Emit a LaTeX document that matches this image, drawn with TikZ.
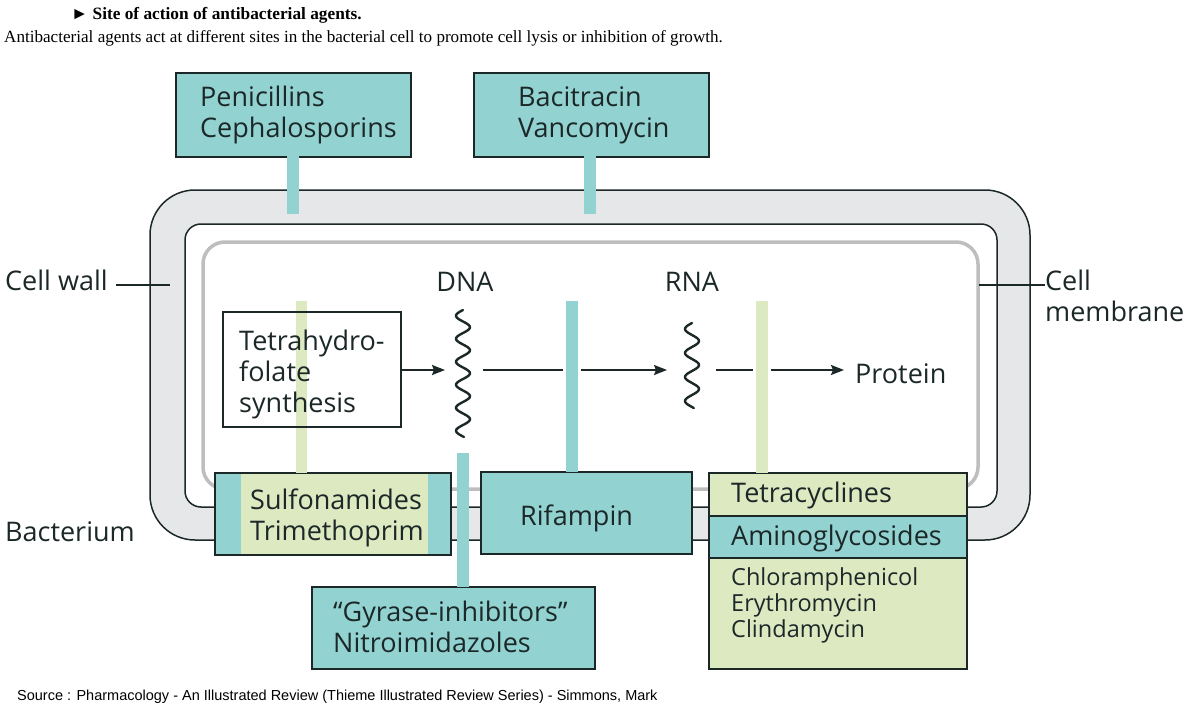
\documentclass[tikz,border=0pt]{standalone}
\usepackage{fontspec}
\setmainfont{Open Sans}
\newfontfamily\serifhd{Liberation Serif}
\newfontfamily\arialf{Liberation Sans}
\usetikzlibrary{arrows.meta}
\definecolor{tealc}{HTML}{92D3D1}
\definecolor{greenc}{HTML}{DCE9C1}
\definecolor{wallgray}{HTML}{E6E7E8}
\definecolor{memgray}{HTML}{BEBEBE}
\definecolor{ink}{HTML}{1C2828}
\tikzset{
  box/.style={draw=ink, line width=2pt, anchor=north west, inner sep=0pt},
  lbl/.style={anchor=west, inner sep=0pt, text=ink, align=left, font=\fontsize{27}{31}\selectfont},
  lblsm/.style={anchor=west, inner sep=0pt, text=ink, align=left, font=\fontsize{23.5}{26}\selectfont},
  arr/.style={draw=ink, line width=2pt, -{Stealth[length=13pt,width=10pt,inset=2pt]}},
  tick/.style={draw=ink, line width=1.6pt},
  squig/.style={draw=ink, line width=2.4pt, line cap=round}
}
\begin{document}
\begin{tikzpicture}[x=1pt,y=-1pt]
\useasboundingbox[fill=white] (0,0) rectangle (1200,717);

% header
\node[anchor=west, inner sep=0pt, font=\serifhd\bfseries\fontsize{17.3}{17}\selectfont] (title) at (71,15) {► Site of action of antibacterial agents.};
\node[anchor=west, inner sep=0pt, font=\serifhd\fontsize{17.1}{17}\selectfont] (sub) at (4,38) {Antibacterial agents act at different sites in the bacterial cell to promote cell lysis or inhibition of growth.};
\node[anchor=west, inner sep=0pt, font=\arialf\fontsize{14.5}{15}\selectfont] (src) at (17,697) {Source : Pharmacology - An Illustrated Review (Thieme Illustrated Review Series) - Simmons, Mark};

% cell wall and membrane
\draw[fill=wallgray, draw=ink, line width=1.5pt, rounded corners=45pt] (150,190) rectangle (1030,540);
\draw[fill=white, draw=ink, line width=1.5pt, rounded corners=16pt] (185,224) rectangle (997,507);
\draw[memgray, line width=3.5pt, rounded corners=22pt] (203,242) rectangle (978,489);

% boxes
\node[box, fill=tealc, minimum width=235pt, minimum height=84pt] (pen) at (175,72) {};
\node[box, fill=tealc, minimum width=235pt, minimum height=84pt] (bac) at (473,72) {};

\fill[tealc] (214,472) rectangle (450,554);
\fill[greenc] (241,472) rectangle (428,554);
\node[box, minimum width=236pt, minimum height=82pt] (sul) at (214,472) {};
\node[box, fill=tealc, minimum width=211pt, minimum height=82pt] (rif) at (480,471) {};
\node[box, fill=tealc, minimum width=283pt, minimum height=82pt] (gyr) at (311,586) {};

\node[box, fill=greenc, minimum width=258pt, minimum height=43pt] (tet) at (708,472) {};
\node[box, fill=tealc, minimum width=258pt, minimum height=42pt] (amino) at (708,515) {};
\node[box, fill=greenc, minimum width=258pt, minimum height=111pt] (chl) at (708,557) {};

% bars (not crossing arrows)
\fill[tealc] (287,155) rectangle (299,214);
\fill[tealc] (584,155) rectangle (596,214);
\fill[greenc] (296,301) rectangle (307,473);
\fill[tealc] (457,453) rectangle (469,587);

% tetrahydrofolate box
\node[box, minimum width=178pt, minimum height=115pt] (thf) at (222,311) {};
\node[lbl] (thft) at (239,374) {Tetrahydro-\\folate\\synthesis};

% squiggles
\draw[squig] plot[domain=0:127, samples=120, smooth] ({463-7*sin(\x*15.652)}, {310+\x});
\draw[squig] plot[domain=0:85, samples=90, smooth] ({692-7*sin(\x*15)}, {323+\x});
\coordinate (dnaL) at (445,370);
\coordinate (dnaR) at (483,370);
\coordinate (rnaL) at (667,370);
\coordinate (rnaR) at (716,370);
\coordinate (protL) at (844,370);

\node[anchor=center, inner sep=0pt, text=ink, font=\fontsize{27}{31}\selectfont] (dna) at (465,282) {DNA};
\node[anchor=center, inner sep=0pt, text=ink, font=\fontsize{27}{31}\selectfont] (rna) at (692,282) {RNA};
\node[lbl] (prot) at (855,374) {Protein};

\draw[arr] (thf.east |- dnaL) -- (dnaL);
\draw[arr] (dnaR) -- (rnaL);
\draw[arr] (rnaR) -- (protL);

% bars crossing the arrows
\fill[white] (563,366) rectangle (581,374);
\fill[white] (753,366) rectangle (771,374);
\fill[tealc] (566,301) rectangle (578,472);
\fill[greenc] (756,301) rectangle (768,473);

% labels
\node[lbl] (penl) at (200,115) {Penicillins\\Cephalosporins};
\node[lbl] (bacl) at (518,115) {Bacitracin\\Vancomycin};
\node[lbl] (sull) at (250,518) {Sulfonamides\\Trimethoprim};
\node[lbl] (rifl) at (520,518) {Rifampin};
\node[lbl] (gyrl) at (333,627) {“Gyrase-inhibitors”\\Nitroimidazoles};
\node[lbl] (tetl) at (731,495) {Tetracyclines};
\node[lbl] (aminol) at (731,538) {Aminoglycosides};
\node[lblsm] (chll) at (731,605) {Chloramphenicol\\Erythromycin\\Clindamycin};

\node[lbl] (cw) at (5,280) {Cell wall};
\node[lbl] (cm) at (1045,296) {Cell\\membrane};
\node[lbl] (bact) at (5,532) {Bacterium};
\coordinate (cwend) at (170,285);
\coordinate (cmstart) at (979,285);
\draw[tick] (cw.east |- cwend) ++(8,0) -- (cwend);
\draw[tick] (cmstart) -- (cm.west |- cmstart);
\end{tikzpicture}
\end{document}
